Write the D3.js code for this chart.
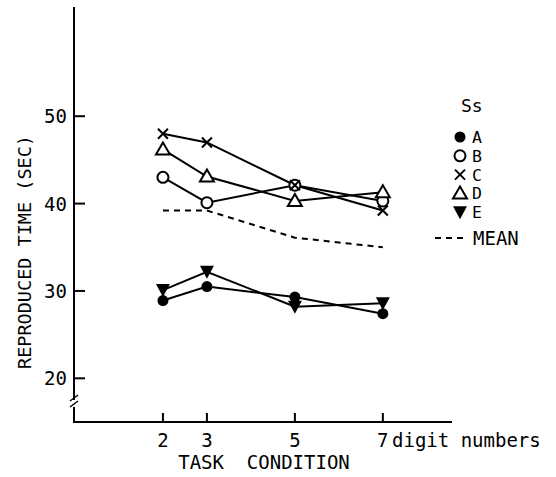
<!DOCTYPE html>
<html><head><meta charset="utf-8">
<script src="https://cdn.jsdelivr.net/npm/d3@7"></script>
<style>body{margin:0;background:#fff}svg{display:block}text{font-family:"DejaVu Sans Mono",monospace;fill:#000}</style>
</head><body>
<script>
const conditions = [2, 3, 5, 7];
const seriesA = [28.9, 30.5, 29.3, 27.4];
const seriesB = [43.0, 40.1, 42.1, 40.3];
const seriesC = [48.0, 47.0, 42.1, 39.2];
const seriesD = [46.2, 43.1, 40.3, 41.3];
const seriesE = [30.1, 32.2, 28.2, 28.6];
const meanValues = [39.2, 39.2, 36.1, 35.0];
const yTicks = [20, 30, 40, 50];
const xTicks = [2, 3, 5, 7];
const legendNames = ["A", "B", "C", "D", "E"];

const W = 556, H = 477;
const svg = d3.select("body").append("svg").attr("width", W).attr("height", H);
const x = d3.scaleLinear().domain([0, 8.8]).range([75, 462]);
const y = d3.scaleLinear().domain([15, 62.5]).range([422, 7]);
const x0 = 74, yBase = 422;

// axes
svg.append("line").attr("x1", x0).attr("x2", x0).attr("y1", 7).attr("y2", 400).attr("stroke", "#000").attr("stroke-width", 2);
svg.append("line").attr("x1", x0).attr("x2", x0).attr("y1", 407).attr("y2", yBase + 1).attr("stroke", "#000").attr("stroke-width", 2);
[0, 6].forEach(d => {
  svg.append("line").attr("x1", x0 - 4).attr("y1", 401 + d).attr("x2", x0 + 4).attr("y2", 395 + d).attr("stroke", "#000").attr("stroke-width", 1.5);
});
svg.append("line").attr("x1", x0).attr("x2", 452).attr("y1", yBase).attr("y2", yBase).attr("stroke", "#000").attr("stroke-width", 2);

yTicks.forEach(t => {
  svg.append("line").attr("x1", x0).attr("x2", x0 + 11).attr("y1", y(t)).attr("y2", y(t)).attr("stroke", "#000").attr("stroke-width", 2);
  svg.append("text").attr("x", 67).attr("y", y(t) + 7).attr("text-anchor", "end").attr("font-size", 19).text(t);
});
xTicks.forEach(t => {
  svg.append("line").attr("x1", x(t)).attr("x2", x(t)).attr("y1", yBase).attr("y2", yBase - 9).attr("stroke", "#000").attr("stroke-width", 2);
  svg.append("text").attr("x", x(t)).attr("y", 447).attr("text-anchor", "middle").attr("font-size", 19).text(t);
});
svg.append("text").attr("x", 392).attr("y", 447).attr("font-size", 19).text("digit numbers");
svg.append("text").attr("x", 264).attr("y", 469).attr("text-anchor", "middle").attr("font-size", 19)
  .style("white-space", "pre").text("TASK  CONDITION");
svg.append("text").attr("transform", "translate(31,252) rotate(-90)").attr("text-anchor", "middle").attr("font-size", 18.5).text("REPRODUCED TIME (SEC)");

const line = d3.line().x((d, i) => x(conditions[i])).y(d => y(d));

// mean
svg.append("path").attr("d", line(meanValues)).attr("fill", "none").attr("stroke", "#000").attr("stroke-width", 2).attr("stroke-dasharray", "6,5");

const series = [
  {name: "A", v: seriesA, m: "dot"},
  {name: "E", v: seriesE, m: "tri-down"},
  {name: "B", v: seriesB, m: "circle"},
  {name: "D", v: seriesD, m: "tri"},
  {name: "C", v: seriesC, m: "cross"},
];
function marker(g, type, cx, cy) {
  if (type === "dot") g.append("circle").attr("cx", cx).attr("cy", cy).attr("r", 5.5).attr("fill", "#000");
  if (type === "circle") g.append("circle").attr("cx", cx).attr("cy", cy).attr("r", 5.5).attr("fill", "#fff").attr("stroke", "#000").attr("stroke-width", 2);
  if (type === "tri") g.append("path").attr("d", `M${cx},${cy - 7}L${cx + 7},${cy + 5}L${cx - 7},${cy + 5}Z`).attr("fill", "#fff").attr("stroke", "#000").attr("stroke-width", 2);
  if (type === "tri-down") g.append("path").attr("d", `M${cx - 7},${cy - 6}L${cx + 7},${cy - 6}L${cx},${cy + 7}Z`).attr("fill", "#000");
  if (type === "cross") g.append("path").attr("d", `M${cx - 5},${cy - 5}L${cx + 5},${cy + 5}M${cx - 5},${cy + 5}L${cx + 5},${cy - 5}`).attr("stroke", "#000").attr("stroke-width", 2);
}
series.forEach(s => {
  svg.append("path").attr("d", line(s.v)).attr("fill", "none").attr("stroke", "#000").attr("stroke-width", 2);
});
series.forEach(s => {
  const g = svg.append("g");
  s.v.forEach((v, i) => marker(g, s.m, x(conditions[i]), y(v)));
});

// legend
svg.append("text").attr("x", 461).attr("y", 112).attr("font-size", 18).text("Ss");
const legMarks = {A: "dot", B: "circle", C: "cross", D: "tri", E: "tri-down"};
legendNames.forEach((n, i) => {
  const cy = 137 + i * 18.8;
  marker(svg.append("g"), legMarks[n], 460, cy);
  svg.append("text").attr("x", 472).attr("y", cy + 6).attr("font-size", 16.5).text(n);
});
svg.append("line").attr("x1", 435).attr("x2", 468).attr("y1", 238).attr("y2", 238).attr("stroke", "#000").attr("stroke-width", 2).attr("stroke-dasharray", "6,5");
svg.append("text").attr("x", 473).attr("y", 245).attr("font-size", 19).text("MEAN");
</script>
</body></html>
